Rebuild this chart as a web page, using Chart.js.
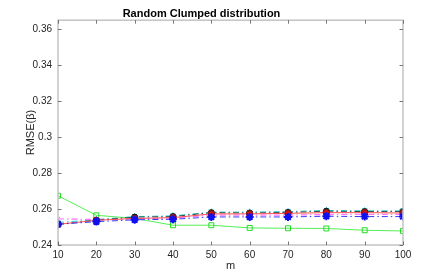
<!DOCTYPE html>
<html>
<head>
<meta charset="utf-8">
<script src="https://cdn.jsdelivr.net/npm/chart.js@4/dist/chart.umd.min.js"></script>
<style>
  body { margin: 0; background: #fff; }
  #wrap { width: 445px; height: 274px; }
</style>
</head>
<body>
<div id="wrap"><canvas id="rmseChart" width="445" height="274"></canvas></div>
<script>
// m values on the x axis
const mValues = [10, 20, 30, 40, 50, 60, 70, 80, 90, 100];
const yTickValues = [0.24, 0.26, 0.28, 0.3, 0.32, 0.34, 0.36];

// RMSE values
const greenSquares = [0.2674, 0.2565, 0.2548, 0.2510, 0.2510, 0.2495, 0.2493, 0.2492, 0.2482, 0.2478];
const cyanStars    = [0.2525, 0.2541, 0.2558, 0.2562, 0.2583, 0.2583, 0.2586, 0.2592, 0.2590, 0.2590];
const blackDots    = [0.2515, 0.2538, 0.2555, 0.2558, 0.2580, 0.2578, 0.2581, 0.2588, 0.2586, 0.2586];
const redCircles   = [0.2515, 0.2537, 0.2548, 0.2552, 0.2573, 0.2573, 0.2576, 0.2580, 0.2580, 0.2578];
const pinkCrosses  = [0.2545, 0.2542, 0.2545, 0.2550, 0.2566, 0.2566, 0.2566, 0.2570, 0.2570, 0.2570];
const blueStars    = [0.2515, 0.2530, 0.2540, 0.2543, 0.2556, 0.2556, 0.2556, 0.2560, 0.2558, 0.2558];

function toPoints(arr) {
  return arr.map((v, i) => ({ x: mValues[i], y: v }));
}

const PLOT_LEFT = 58;
const PLOT_BOTTOM_GAP = 29;

// MATLAB-style box with inward ticks
const boxPlugin = {
  id: "boxPlugin",
  afterDraw(chart) {
    const ctx = chart.ctx;
    const a = chart.chartArea;
    const xs = chart.scales.x;
    const ys = chart.scales.y;
    ctx.save();
    ctx.strokeStyle = "#c4c4c4";
    ctx.lineWidth = 1.5;
    ctx.strokeRect(a.left, a.top, a.right - a.left, a.bottom - a.top);
    ctx.strokeStyle = "#555";
    ctx.lineWidth = 0.8;
    ctx.beginPath();
    mValues.forEach(function (m) {
      const px = Math.round(xs.getPixelForValue(m)) + 0.5;
      ctx.moveTo(px, a.bottom); ctx.lineTo(px, a.bottom - 3.5);
      ctx.moveTo(px, a.top); ctx.lineTo(px, a.top + 3.5);
    });
    yTickValues.forEach(function (v) {
      const py = Math.round(ys.getPixelForValue(v)) + 0.5;
      ctx.moveTo(a.left, py); ctx.lineTo(a.left + 3.5, py);
      ctx.moveTo(a.right, py); ctx.lineTo(a.right - 3.5, py);
    });
    ctx.stroke();
    ctx.restore();
  },
};

const dashDot = [6, 3, 1.5, 3];

new Chart(document.getElementById("rmseChart"), {
  type: "line",
  data: {
    datasets: [
      {
        label: "blue",
        data: toPoints(blueStars),
        borderColor: "#3a3aff",
        borderWidth: 1,
        borderDash: dashDot,
        pointStyle: "star",
        pointRadius: 4,
        pointBorderWidth: 2,
        pointBorderColor: "#1010ee",
        pointBackgroundColor: "#1010ee",
        order: 1,
      },
      {
        label: "red",
        data: toPoints(redCircles),
        borderColor: "#ff5050",
        borderWidth: 1,
        pointStyle: "circle",
        pointRadius: 3,
        pointBorderWidth: 1.2,
        pointBorderColor: "#8b1a1a",
        pointBackgroundColor: "#dd1010",
        order: 2,
      },
      {
        label: "black",
        data: toPoints(blackDots),
        borderColor: "#2f4f4f",
        borderWidth: 1,
        borderDash: dashDot,
        pointStyle: "circle",
        pointRadius: 3,
        pointBorderWidth: 1,
        pointBorderColor: "#111",
        pointBackgroundColor: "#222",
        order: 3,
      },
      {
        label: "pink",
        data: toPoints(pinkCrosses),
        borderColor: "#ff77ff",
        borderWidth: 1.2,
        borderDash: dashDot,
        pointStyle: "crossRot",
        pointRadius: 3,
        pointBorderWidth: 1,
        pointBorderColor: "#ff66ff",
        order: 4,
      },
      {
        label: "cyan",
        data: toPoints(cyanStars),
        borderColor: "#22cccc",
        borderWidth: 1,
        borderDash: dashDot,
        pointStyle: "star",
        pointRadius: 3.5,
        pointBorderWidth: 1,
        pointBorderColor: "#00dddd",
        order: 5,
      },
      {
        label: "green",
        data: toPoints(greenSquares),
        borderColor: "#55ee55",
        borderWidth: 1,
        pointStyle: "rect",
        pointRadius: 3.5,
        pointBorderWidth: 1,
        pointBorderColor: "#22dd22",
        pointBackgroundColor: "rgba(255,255,255,0)",
        order: 6,
      },
    ],
  },
  options: {
    responsive: false,
    animation: false,
    layout: { padding: { left: 0, right: 42, top: 0, bottom: 0 } },
    plugins: {
      legend: { display: false },
      tooltip: { enabled: false },
      title: {
        display: true,
        text: "Random Clumped distribution",
        color: "#000",
        font: { family: "Liberation Sans, Arial, sans-serif", size: 11, weight: "bold" },
        padding: { top: 7, bottom: 0 },
      },
    },
    scales: {
      x: {
        type: "linear",
        min: 10,
        max: 100,
        afterFit(scale) { scale.height = PLOT_BOTTOM_GAP; },
        afterBuildTicks(scale) { scale.ticks = mValues.map((v) => ({ value: v })); },
        grid: { display: false, drawTicks: false },
        border: { display: false },
        ticks: {
          padding: 4,
          color: "#262626",
          font: { family: "Liberation Sans, Arial, sans-serif", size: 10 },
          maxRotation: 0,
        },
        title: {
          display: true,
          text: "m",
          color: "#262626",
          font: { family: "Liberation Sans, Arial, sans-serif", size: 11 },
          padding: { top: 0, bottom: 1.5 },
        },
      },
      y: {
        type: "linear",
        min: 0.24,
        max: 0.365,
        afterFit(scale) { scale.width = PLOT_LEFT; },
        afterBuildTicks(scale) { scale.ticks = yTickValues.map((v) => ({ value: v })); },
        grid: { display: false, drawTicks: false },
        border: { display: false },
        ticks: {
          padding: 6,
          color: "#262626",
          font: { family: "Liberation Sans, Arial, sans-serif", size: 10 },
          callback: (v) => String(Number(v.toFixed(2))),
        },
        title: {
          display: true,
          text: "RMSE(β)",
          color: "#262626",
          font: { family: "Liberation Sans, Arial, sans-serif", size: 11 },
          padding: { top: 24, bottom: 0 },
        },
      },
    },
  },
  plugins: [boxPlugin],
});
</script>
</body>
</html>
